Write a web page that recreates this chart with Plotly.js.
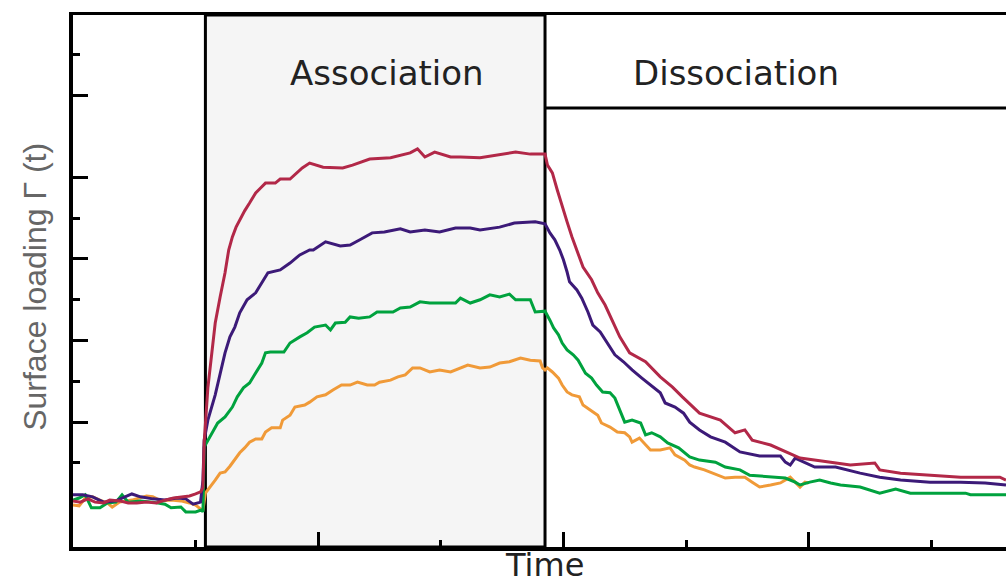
<!DOCTYPE html>
<html>
<head>
<meta charset="utf-8">
<script src="https://cdn.plot.ly/plotly-3.0.1.min.js"></script>
<style>html,body{margin:0;padding:0;background:#fff;}</style>
</head>
<body>
<div id="chart" style="width:1006px;height:587px;"></div>
<script>
// Time (s) and surface loading (a.u.)
const crimsonT = [0,6,12,18,25,30,38,45,52,60,68,75,82,88,95,100,104,106,107,110,113,116,120,124,127,130,133,136,140,144,149,153,157,165,169,177,183,187,193,204,220,228,242,259,275,281,287,295,308,316,332,340,356,361,373,385,387,391,395,399,403,407,411,416,423,428,434,440,446,454,467,479,489,497,502,511,528,540,548,554,569,581,593,618,634,654,658,675,699,724,748,756,761];
const crimsonY = [10.7,10.4,11.2,10.4,10.2,10.9,10.7,10.2,10.2,10.4,10.2,10.9,11.4,11.7,11.9,12.4,12.9,13.9,25.1,38.4,47.0,54.3,60.7,66.6,72.2,75.4,77.8,79.6,81.8,83.7,86.2,87.4,88.6,88.6,89.6,89.6,91.1,92.3,93.5,92.5,92.3,93.0,94.5,94.8,96.0,97.0,95.0,96.2,95.0,95.0,94.8,95.2,96.0,96.2,95.7,95.7,93.0,91.1,86.9,82.7,79.1,75.4,72.2,68.0,64.9,61.7,58.7,55.0,50.9,47.0,44.8,41.1,38.6,36.2,34.7,32.2,30.5,27.4,28.1,25.6,24.4,22.7,21.2,20.2,19.5,20.0,18.3,17.5,17.0,16.5,16.5,16.5,15.8];

const purpleT = [0,8,16,25,35,48,55,65,75,85,92,98,104,106,107,110,116,120,124,128,132,136,142,149,154,159,169,177,185,193,196,206,218,226,234,244,254,267,275,287,299,312,324,332,348,360,377,385,389,393,397,400,403,405,411,415,420,424,430,436,442,449,456,464,471,479,483,491,498,503,511,520,532,544,560,577,581,585,589,605,622,642,658,675,699,724,744,756,761];
const purpleY = [12.2,12.2,11.7,10.4,10.7,12.4,11.7,11.2,10.9,11.4,11.2,9.9,10.4,15.8,25.6,30.5,36.7,42.0,47.0,50.9,53.3,56.8,60.0,61.7,64.1,66.6,67.3,69.0,71.0,72.2,72.2,74.2,73.2,73.4,74.7,76.4,76.6,77.4,76.6,77.1,76.6,77.6,77.6,77.1,77.8,78.8,79.1,78.6,76.4,74.7,72.2,69.8,66.8,64.4,62.4,60.4,57.0,53.8,52.1,49.4,46.5,44.8,42.8,40.8,39.1,37.2,34.7,33.7,32.2,30.0,28.1,26.4,25.1,22.7,21.7,21.7,20.2,19.5,21.2,19.0,19.0,17.5,16.5,15.8,15.3,15.3,15.1,14.8,14.6];

const greenT = [0,5,10,15,22,28,35,40,45,55,65,75,80,88,92,100,105,106,107,110,118,124,130,134,139,144,149,154,157,161,172,177,185,191,197,206,210,214,222,226,233,242,248,261,267,275,283,291,303,312,316,324,332,340,348,356,361,373,377,385,389,392,396,399,403,408,412,415,418,423,427,432,438,442,445,448,450,456,463,467,472,479,485,494,503,511,524,532,544,552,569,581,589,593,601,609,618,626,642,650,658,671,683,707,728,732,761];
const greenY = [10.9,11.4,12.2,9.0,9.0,10.2,10.4,12.2,10.4,10.7,10.4,9.9,9.0,9.2,8.0,8.0,8.5,8.0,23.9,25.6,29.8,31.3,33.7,36.2,38.4,39.6,42.0,44.5,47.0,47.2,47.2,49.4,50.9,51.9,53.3,53.8,52.6,54.3,54.5,55.8,55.5,55.8,57.0,57.0,58.0,58.2,59.5,59.2,59.2,59.2,60.4,59.2,60.0,61.2,60.7,61.4,60.0,60.0,57.0,57.2,55.0,53.1,51.4,49.4,47.7,46.5,45.2,43.5,42.0,40.8,39.1,37.4,37.2,35.9,33.7,31.7,30.0,30.5,29.8,26.9,27.4,26.4,24.9,23.7,21.5,20.7,20.2,19.0,18.3,17.0,16.5,16.3,15.3,14.6,15.3,15.8,15.1,14.6,14.1,13.4,12.6,13.6,12.6,12.6,12.6,12.2,12.2];

const orangeT = [0,5,10,16,22,28,32,38,48,60,65,72,80,88,95,100,105,106,108,112,116,120,124,128,132,136,140,144,149,154,157,162,169,171,177,181,189,193,199,206,212,219,226,232,240,246,250,259,265,271,277,283,291,299,308,316,322,332,340,348,356,365,373,381,383,385,387,391,396,399,403,407,413,416,422,428,431,438,444,450,454,456,462,467,471,479,487,491,499,503,507,515,524,532,540,548,554,560,569,577,585,589,593,597,600];
const orangeY = [9.7,9.5,11.4,11.7,10.9,10.2,9.2,10.4,10.9,11.9,11.7,10.7,10.9,10.7,10.2,9.7,8.5,8.5,12.6,14.1,15.8,17.5,17.8,19.2,21.0,22.5,23.7,25.1,25.9,25.9,27.6,28.6,28.6,30.5,31.7,33.7,34.2,34.9,36.2,36.7,37.9,39.1,39.1,39.8,39.1,39.1,39.8,40.3,41.1,41.6,43.3,43.3,42.3,42.8,42.3,43.3,44.0,43.3,43.5,44.5,44.8,45.7,45.2,45.0,43.3,42.8,43.3,42.3,40.8,39.1,37.4,36.7,36.2,34.2,33.0,31.7,29.8,28.8,27.6,27.4,26.4,25.1,26.1,24.4,23.2,23.2,23.7,22.0,20.7,19.5,19.0,18.3,17.3,16.3,16.5,16.5,15.3,14.1,14.6,15.1,16.5,15.3,14.1,15.3,15.1];

const phaseStart = [108, 385];
const phaseEnd = [385, 761];
const phaseLabels = ['Association', 'Dissociation'];
const phaseLabelX = [256, 541];
const labelY = 115.6;
const dissocLineY = 107;
const xTitle = 'Time';
const yTitle = 'Surface loading Γ (t)';

const xMajor = [0, 200, 400, 600];
const xMinor = [100, 300, 500, 700];
const yMajor = [30, 50, 70, 90, 110];
const yMinor = [20, 40, 60, 80, 120];

const series = [
  {t: orangeT, y: orangeY, color: '#F09A38'},
  {t: greenT, y: greenY, color: '#00A23E'},
  {t: purpleT, y: purpleY, color: '#3C1A78'},
  {t: crimsonT, y: crimsonY, color: '#B22848'}
];

const traces = series.map(s => ({
  type: 'scatter', mode: 'lines', x: s.t, y: s.y,
  line: {color: s.color, width: 3}, hoverinfo: 'skip'
}));

const annotations = phaseLabels.map((txt, i) => ({
  text: txt, x: phaseLabelX[i], y: labelY, xref: 'x', yref: 'y', showarrow: false,
  font: {family: 'DejaVu Sans', size: 34, color: '#222'}, xanchor: 'center', yanchor: 'middle'
}));
annotations.push({
  text: xTitle, xref: 'paper', yref: 'paper', x: 0.5, y: 0, xshift: 5, yshift: 3,
  xanchor: 'center', yanchor: 'top', showarrow: false,
  font: {family: 'DejaVu Sans', size: 32, color: '#222'}
});
annotations.push({
  text: yTitle, xref: 'paper', yref: 'paper', x: 0, y: 0.489, xshift: -38,
  xanchor: 'center', yanchor: 'middle', textangle: -90, showarrow: false,
  font: {family: 'Liberation Sans, Arial', size: 32, color: '#666'}
});

const layout = {
  width: 1006, height: 587,
  margin: {l: 73, r: 0, t: 15, b: 40},
  paper_bgcolor: '#fff', plot_bgcolor: '#fff',
  showlegend: false,
  font: {family: 'DejaVu Sans, sans-serif', color: '#222'},
  xaxis: {
    range: [0, 761], showgrid: false, zeroline: false,
    showline: true, linecolor: '#000', linewidth: 3.5, mirror: true,
    ticks: 'inside', tickmode: 'array', tickvals: xMajor, ticklen: 15, tickwidth: 3, tickcolor: '#000',
    showticklabels: false,
    minor: {ticks: 'inside', tickmode: 'array', tickvals: xMinor, ticklen: 7, tickwidth: 3, tickcolor: '#000', showgrid: false}
  },
  yaxis: {
    range: [-0.6, 129.8], showgrid: false, zeroline: false,
    showline: true, linecolor: '#000', linewidth: 4,
    ticks: 'inside', tickmode: 'array', tickvals: yMajor, ticklen: 15, tickwidth: 3, tickcolor: '#000',
    showticklabels: false,
    minor: {ticks: 'inside', tickmode: 'array', tickvals: yMinor, ticklen: 7, tickwidth: 3, tickcolor: '#000', showgrid: false}
  },
  shapes: [
    {type: 'rect', xref: 'x', yref: 'paper', x0: phaseStart[0], x1: phaseEnd[0], y0: 0, y1: 1,
     fillcolor: '#F5F5F5', line: {color: '#000', width: 3}, layer: 'below'},
    {type: 'line', xref: 'x', yref: 'y', x0: phaseStart[1], x1: phaseEnd[1], y0: dissocLineY, y1: dissocLineY,
     line: {color: '#000', width: 3}}
  ],
  annotations: annotations
};

Plotly.newPlot('chart', traces, layout, {displayModeBar: false, staticPlot: true});
</script>
</body>
</html>
